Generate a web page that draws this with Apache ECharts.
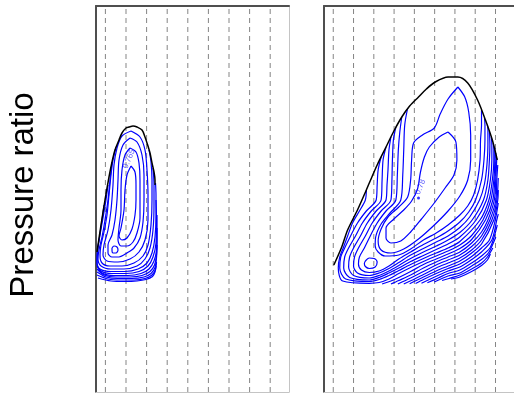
<!DOCTYPE html>
<html><head><meta charset="utf-8">
<script src="https://cdn.jsdelivr.net/npm/echarts@6/dist/echarts.min.js"></script>
<style>html,body{margin:0;padding:0;background:#fff}#c{width:514px;height:393px}</style>
</head><body><div id="c"></div>
<script>
// Axis units (arbitrary, no tick labels in the source): x 0..96.5, y 0..193
const X_MAX = 96.5, Y_MAX = 193;
const gridX = [4.7, 15.0, 25.3, 35.6, 45.9, 56.2, 66.5, 76.8, 87.1];

// ---------- left map ----------
const leftEnvelope = [[0.5,70],[2.5,83.5],[4.5,96],[6.5,107.5],[8,115],[9.5,121],[11.5,126],[13,129.5],[15,132],[16.5,132.5],[18.5,133],[20.5,132.5],[23,131],[24.5,127.5],[25.5,124.5],[27,119.5],[28,114.5],[29,110],[29.5,106],[29.5,103.5]];
const leftC1 = [[17.5,113],[15.5,108.5],[14.5,101],[14,91],[12.5,82],[11.5,78],[13,76],[15.5,77],[18,81.5],[19.5,88.5],[20,96],[20,103.5],[19.5,110],[17.5,113]];
const leftC2 = [[17,122],[14.5,118.5],[13,111],[12.5,101],[12.5,91],[11.5,82],[11,76],[12.5,73],[15.5,73],[18.5,75],[20.5,79.5],[22,87],[22,96],[22,106],[21.5,114.5],[20,120],[17,122]];
const leftLoop = [[8,72],[9,73],[10.5,72.5],[11,71],[10,69.5],[8.5,69.5],[8,71],[8,72]];
const leftC3 = [[17,127],[13.5,123.5],[11.5,116],[11,106],[10.5,96],[9.5,86],[8,78.5],[6,73.5],[6,69.5],[8,67.5],[11.5,67.5],[15.5,69.5],[19,72],[22,77],[23.5,85],[24,96],[24,108.5],[23,118.5],[20.5,125],[17,127]];
const leftC4 = [[17.5,130.5],[13,128],[10.5,122],[9,113.5],[8.5,103.5],[7.5,91],[6,81],[4,73.5],[3.5,68.5],[5.5,65.5],[11,65],[17,66.5],[21.5,70],[24.5,76],[26,86],[26,98.5],[25.5,111],[24.5,121],[22,127.5],[17.5,130.5]];
const leftC5 = [[10,122.5],[8.5,116],[7.5,108.5],[6.5,98.5],[5.5,88.5],[4,80],[2.5,73.5],[2,68.5],[3,64.5],[7,63],[13,63],[19,64.5],[23.5,68],[26,73.5],[27.5,83.5],[28,96],[28,106],[27.5,115],[26.5,121]];
const leftC6 = [[8,115],[7,106],[6,96],[4.5,86],[3,77.5],[1.5,71],[1,66.5],[2.5,63],[7.5,61.5],[14,61.5],[20.5,63],[24.5,66.5],[27,72],[28.5,81],[29,93.5],[29,103.5],[28.5,112]];
const leftC7 = [[6,103.5],[5,96],[3.5,87],[2,78.5],[1,72],[0.5,65],[2,61.5],[7.5,60.25],[14.5,60.25],[21,61.5],[25.5,64.5],[28,69.5],[29.5,77.5],[30,88.5],[30,98.5],[29.75,104.5]];
const leftC8 = [[4,93.5],[3,86],[1.75,77.5],[0.75,71],[0.5,64],[2.5,60.5],[8,59.25],[15,59.25],[21.5,60.25],[26,63],[28.5,67.5],[30,74.5],[30.25,86],[30,96]];
const leftC9 = [[0.5,63],[3,59.5],[9,58.25],[16,58.25],[22.5,59.25],[26.5,61.5],[29,65.5],[30.25,71],[30.5,80],[30.5,88.5]];
const leftC10 = [[0.5,61.5],[4,58.5],[10,57.5],[17,57.5],[23,58.25],[27,60.25],[29.25,63.5],[30.25,68.5],[30.5,76],[30.5,82]];
const leftC11 = [[0.5,60],[5,57.5],[11,56.75],[18,56.75],[24,57.5],[27.5,59.25],[29.5,62.25],[30.25,67],[30.5,73.5]];
const leftC12 = [[0.5,58.5],[6,56.5],[12.5,56],[19,56],[24.5,56.75],[28,58.5],[29.75,61.25],[30.25,65]];
const leftC13 = [[1,57],[7.5,55.5],[14.5,55.25],[20.5,55.5],[25,56.25],[28.25,57.75],[29.5,60],[30,63]];
const leftContours = [leftC1,leftC2,leftLoop,leftC3,leftC4,leftC5,leftC6,leftC7,leftC8,leftC9,leftC10,leftC11,leftC12,leftC13];
const leftLabels = [[16.5,116.5,'0.765']];

// ---------- right map ----------
const rightEnvelope = [[5,63.5],[9,72.5],[12,81],[17,91],[21.5,101],[23,104.5],[27,113.5],[31.5,122.5],[35.5,130.5],[39.5,137.5],[43.5,143],[48,147.5],[52,151.5],[56.5,155],[63,157.5],[68,157.5],[73,154.5],[78,146],[82,136],[85.5,126],[88,116]];
const rightC1 = [[63,130],[67,125],[67.5,116],[66,108.5],[61.5,102],[56,94.5],[49.5,86.5],[44,80],[39,75.5],[34,74.5],[31.5,77],[31.5,82],[35.5,86.5],[40.5,91],[44.5,95.5],[47.5,101.5],[49,110],[51,117.5],[53.5,122.5],[58.5,127.5],[63,130]];
const rightC2 = [[68,152.5],[71.5,147.5],[73.5,140],[74.5,128.5],[74.5,116],[73,106],[69,98],[63,90.5],[55.5,83],[48,76.5],[40.5,71.5],[34,69.5],[29,71],[27.5,75.5],[29,81.5],[32.5,87.5],[38,92.5],[42.5,97.5],[44,106],[44.5,116],[45.5,124.5],[50,128.5],[56,132],[59,139],[63,146.5],[68,152.5]];
const rightLoop = [[21,65.5],[23,67],[25.5,66.75],[27,65],[26,62.5],[23,61.75],[21,62.75],[20.5,64.25],[21,65.5]];
const rightC3 = [[42.5,142],[41,133.5],[40.5,121],[40,108.5],[39,96],[33.5,89.5],[29,84],[26.25,77.5],[26,73],[27.5,70],[31,68],[38,68.5],[44,71.5],[50.5,76],[57,79.5],[63,83.5],[69,88.5],[73,93],[76,98.5],[78,106],[79.25,116],[79.5,126],[80,133.5],[80,141]];
const rightC4 = [[39.5,137.5],[38.5,130],[37.75,121],[37.25,108.5],[36.5,96],[31.5,90.5],[27,84.5],[23.5,78],[20.5,72],[18,67.5],[17.5,64],[19,61],[23,59.75],[28,60.5],[33,63],[38,66.5],[44,70],[50.5,73.75],[57,77],[63,80.5],[69,85],[73.5,90],[77,96],[80,106],[81.25,116],[81.75,126],[81.75,133.5],[81.5,137]];
const rightC5 = [[36.5,132.5],[35.25,126],[34.75,116],[34.5,106],[34,96],[29,90.5],[24.5,84.5],[21,78],[17.5,72],[15.5,67.5],[15,63],[17,59.5],[23,58.25],[28,59.5],[33,61.75],[38,64.75],[44,68.5],[50.5,71.75],[57,75],[63,78],[69,82.25],[74,87.5],[79,96],[81.5,104],[82.75,113.5],[83.25,123.5],[83.25,131],[83,133.5]];
const rightC6 = [[34,127.5],[33,121],[32.5,111],[32,103.5],[31.5,96],[26.5,90.5],[22,84.5],[18.5,78],[15,72],[13,67.5],[12.5,62.5],[15,58.25],[23,57],[28,58.25],[33,60.5],[38,63.25],[44,66.75],[50.5,70],[57,73],[63,76],[69,79.75],[75.25,86],[81,96],[83.25,106],[84,116],[84.25,123.5],[84,130.5]];
const rightC7 = [[31.5,122.5],[30,116],[29.5,106],[29,96],[24,90.5],[19.5,84.5],[16,78],[12.5,72],[10.5,67.5],[10,62],[13,57.25],[23,56],[28,57.25],[33,59.5],[38,62],[44,65.25],[50.5,68.25],[57,71.25],[63,74],[69,77.5],[77.25,86],[82.5,96],[84.5,106],[85.25,116],[85.25,123.5],[85,127.5]];
const rightC8 = [[29,117.5],[27.5,111],[27,103.5],[26.5,96],[21.5,90.5],[17,84.5],[13.5,78],[10.5,72],[8.5,67.5],[8,62],[11,56.5],[23,55.25],[28,56.25],[33,58.25],[38,60.75],[44,63.75],[50.5,66.75],[57,69.5],[63,72],[69,75.25],[79.25,86],[83.75,96],[85.5,106],[86.25,116],[86.25,121],[86,124.5]];
const rightC9 = [[21.5,101],[21,96],[18,90.5],[14.5,84.5],[12,78],[9.75,72],[8,67.5],[7.25,62],[9.5,55.5],[23,54.35],[28,54.75],[33,56.5],[38,59.25],[44,62.25],[50.5,65.25],[57,68],[63,70.5],[69,73.5],[75,78.25],[80.75,86],[84.75,96],[86.25,106],[86.75,116],[86.75,122]];
const rightC10 = [[29.5,54],[34,55.5],[38,57.25],[44,60.25],[50.5,63.75],[57,66.5],[63,69],[69,71.75],[75,76.25],[82,86],[85.75,96],[86.75,106],[87.25,116],[87.25,119.5]];
const rightC11 = [[34,54],[38,55.75],[44,58.5],[50.5,62],[57,65],[63,67.5],[69,70],[75,74.5],[80,80],[83.25,86],[86.5,96],[87.25,106],[87.75,117]];
const rightC12 = [[37.5,54],[44,57],[50.5,60.25],[57,63.5],[63,66],[69,68.5],[75,72.75],[80,78],[84.25,86],[87.25,96],[87.75,106],[88.25,113.5]];
const rightC13 = [[40.5,54],[45.5,56.25],[50.5,58.75],[57,62],[63,64.5],[69,67],[75,71],[80,76],[85.25,86],[87.75,96],[88.5,107]];
const rightC14 = [[43.5,54.1],[50.5,57.5],[57,60.5],[63,63],[69,65.5],[75,69.5],[80,74],[86.25,86],[88.25,96],[88.5,101]];
const rightC15 = [[46.5,54.25],[50.5,56.25],[57,59.25],[63,61.75],[69,64],[75,67.75],[80,72],[84,76],[87,86],[88.5,94.5]];
const rightC16 = [[49.5,54.4],[57,57.85],[63,60.5],[69,62.5],[75,66.25],[80,70],[85.25,76],[87.75,86],[88.5,89]];
const rightC17 = [[52.5,54.6],[58,57],[63,59.25],[69,61],[75,64.5],[80,68],[84.25,72],[86.25,77],[88,83.5]];
const rightC18 = [[56,55],[63,58],[69,59.5],[75,63],[80,66.25],[83.5,69.5],[86,74.5],[87.25,77.5]];
const rightC19 = [[60,55.75],[63.5,56.75],[69,58.5],[75,61.5],[80,64.5],[83,67.5],[85.75,72]];
const rightC20 = [[64.5,56.5],[69,57.5],[75,60.25],[80,63.25],[83,66],[84.5,69]];
const rightContours = [rightC1,rightC2,rightLoop,rightC3,rightC4,rightC5,rightC6,rightC7,rightC8,rightC9,rightC10,rightC11,rightC12,rightC13,rightC14,rightC15,rightC16,rightC17,rightC18,rightC19,rightC20];
const rightPeak = [[48,97]];
const rightLabels = [[49,102.5,'0.78']];

const yTitle = 'Pressure ratio';

const DARK = '#4f4f4f', LIGHT = '#c4c4c4', BLUE = '#0000ff';

function xAx(grid, pos, color, w) {
  return {gridIndex: grid, type: 'value', min: 0, max: X_MAX, position: pos,
    axisLine: {show: true, onZero: false, lineStyle: {color: color, width: w}},
    axisTick: {show: false}, axisLabel: {show: false}, splitLine: {show: false}};
}
function yAx(grid, pos, color, w) {
  return {gridIndex: grid, type: 'value', min: 0, max: Y_MAX, position: pos,
    axisLine: {show: true, onZero: false, lineStyle: {color: color, width: w}},
    axisTick: {show: false}, axisLabel: {show: false}, splitLine: {show: false}};
}

const series = [];
function addPanel(idx, envelope, contours, peaks, labels) {
  gridX.forEach(function (v) {
    series.push({type: 'line', xAxisIndex: idx, yAxisIndex: idx, data: [[v, 0], [v, Y_MAX]],
      symbol: 'none', silent: true, z: 1,
      lineStyle: {color: '#858585', width: 1, type: [5, 4]}});
  });
  contours.forEach(function (c) {
    series.push({type: 'line', xAxisIndex: idx, yAxisIndex: idx, data: c,
      symbol: 'none', smooth: 0.3, silent: true, z: 2,
      lineStyle: {color: BLUE, width: 1.2}});
  });
  series.push({type: 'line', xAxisIndex: idx, yAxisIndex: idx, data: envelope,
    symbol: 'none', smooth: 0.3, silent: true, z: 3,
    lineStyle: {color: '#000', width: 1.5}});
  if (peaks) {
    series.push({type: 'scatter', xAxisIndex: idx, yAxisIndex: idx, data: peaks,
      symbolSize: 3, silent: true, z: 4, itemStyle: {color: BLUE}});
  }
  if (labels) {
    series.push({type: 'scatter', xAxisIndex: idx, yAxisIndex: idx, data: labels,
      symbolSize: 0, silent: true, z: 4,
      label: {show: true, position: 'inside', rotate: 68, fontSize: 8, color: '#3030ff',
        fontFamily: 'Liberation Sans, Arial, sans-serif',
        formatter: function (p) { return p.data[2]; }}});
  }
}
addPanel(0, leftEnvelope, leftContours, null, leftLabels);
addPanel(1, rightEnvelope, rightContours, rightPeak, rightLabels);

const chart = echarts.init(document.getElementById('c'), null, {renderer: 'canvas'});
chart.setOption({
  animation: false,
  backgroundColor: '#fff',
  grid: [
    {left: 96, top: 6, width: 193, height: 386},
    {left: 324, top: 6, width: 193, height: 386}
  ],
  xAxis: [xAx(0, 'bottom', LIGHT, 1), xAx(1, 'bottom', LIGHT, 1), xAx(0, 'top', DARK, 2), xAx(1, 'top', DARK, 2)],
  yAxis: [yAx(0, 'left', DARK, 2), yAx(1, 'left', DARK, 2), yAx(0, 'right', LIGHT, 1), yAx(1, 'right', LIGHT, 1)],
  graphic: [{
    type: 'text', x: 23.5, y: 195, rotation: Math.PI / 2, silent: true,
    style: {text: yTitle, fontSize: 33, fontFamily: 'Liberation Sans, Arial, sans-serif', fill: '#000', align: 'center', verticalAlign: 'middle'}
  }],
  series: series
});
</script>
</body></html>
